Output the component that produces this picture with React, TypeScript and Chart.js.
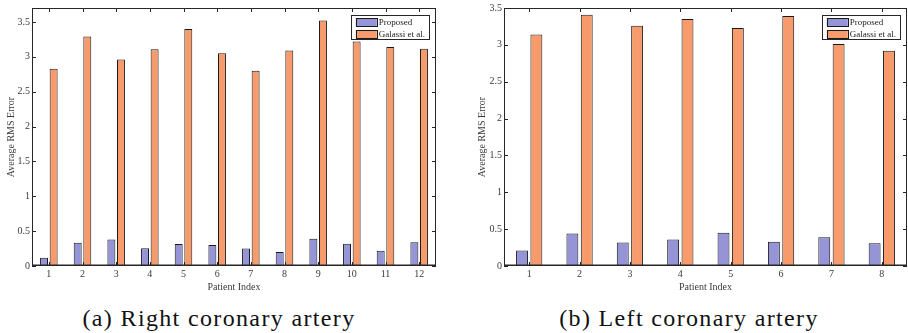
import React, { useEffect, useRef } from 'react';
import { Chart, registerables } from 'chart.js';

Chart.register(...registerables);

// ---- Data ----
const seriesLabels = ['Proposed', 'Galassi et al.'];
const seriesColors = ['#9494d6', '#f79a6c'];

const rightCategories = ['1', '2', '3', '4', '5', '6', '7', '8', '9', '10', '11', '12'];
const rightProposed = [0.12, 0.335, 0.38, 0.255, 0.315, 0.3, 0.25, 0.2, 0.39, 0.32, 0.22, 0.34];
const rightGalassi = [2.83, 3.29, 2.96, 3.11, 3.4, 3.05, 2.8, 3.09, 3.52, 3.22, 3.14, 3.115];

const leftCategories = ['1', '2', '3', '4', '5', '6', '7', '8'];
const leftProposed = [0.21, 0.44, 0.32, 0.36, 0.45, 0.33, 0.39, 0.31];
const leftGalassi = [3.14, 3.41, 3.26, 3.35, 3.23, 3.39, 3.01, 2.92];

const xTitle = 'Patient Index';
const yTitle = 'Average RMS Error';
const captionA = '(a) Right coronary artery';
const captionB = '(b) Left coronary artery';

const FONT = "'Liberation Serif', serif";
const TEXT = '#3a3a3a';

const framePlugin = {
  id: 'matlabFrame',
  afterDatasetsDraw(chart: any) {
    const { ctx, chartArea } = chart;
    const { left, right, top, bottom } = chartArea;
    const xs = chart.scales.x;
    const ys = chart.scales.y;
    ctx.save();
    ctx.strokeStyle = '#262626';
    ctx.lineWidth = 1;
    ctx.strokeRect(left + 0.5, top + 0.5, right - left - 1, bottom - top - 1);
    const tl = 4;
    ctx.beginPath();
    xs.ticks.forEach((_t: any, i: number) => {
      const px = Math.round(xs.getPixelForTick(i)) + 0.5;
      ctx.moveTo(px, bottom);
      ctx.lineTo(px, bottom - tl);
      ctx.moveTo(px, top);
      ctx.lineTo(px, top + tl);
    });
    ys.ticks.forEach((t: any) => {
      const py = Math.round(ys.getPixelForValue(t.value)) + 0.5;
      ctx.moveTo(left, py);
      ctx.lineTo(left + tl, py);
      ctx.moveTo(right, py);
      ctx.lineTo(right - tl, py);
    });
    ctx.stroke();
    ctx.lineWidth = 1.5;
    ctx.beginPath();
    ctx.moveTo(left, bottom - 0.75);
    ctx.lineTo(right, bottom - 0.75);
    ctx.stroke();

    // legend box (inside top-right)
    const fontPx = 9;
    ctx.font = `${fontPx}px ${FONT}`;
    const labels = chart.data.datasets.map((d: any) => d.label);
    const textW = Math.max(...labels.map((l: string) => ctx.measureText(l).width));
    const swW = 21;
    const boxW = 5 + swW + 2 + textW + 4;
    const boxH = 24;
    const bx = right - 7 - boxW;
    const by = top + 7;
    ctx.fillStyle = '#ffffff';
    ctx.fillRect(bx, by, boxW, boxH);
    ctx.strokeStyle = '#262626';
    ctx.lineWidth = 1;
    ctx.strokeRect(Math.round(bx) + 0.5, Math.round(by) + 0.5, Math.round(boxW), boxH);
    chart.data.datasets.forEach((d: any, i: number) => {
      const sy = by + 3 + i * 12;
      ctx.fillStyle = d.backgroundColor;
      ctx.fillRect(bx + 5, sy, swW, 8);
      ctx.strokeStyle = '#1a1a1a';
      ctx.strokeRect(Math.round(bx + 5) + 0.5, Math.round(sy) + 0.5, swW, 8);
      ctx.fillStyle = '#222';
      ctx.textBaseline = 'middle';
      ctx.textAlign = 'left';
      ctx.fillText(d.label, bx + 5 + swW + 2, sy + 4.5);
    });
    ctx.restore();
  },
};

function makeConfig(
  categories: string[],
  proposed: number[],
  galassi: number[],
  yMax: number,
  yWidth: number,
  yTitlePad: number,
  padding: any
): any {
  return {
    type: 'bar',
    data: {
      labels: categories,
      datasets: [
        {
          label: seriesLabels[0],
          data: proposed,
          backgroundColor: seriesColors[0],
          borderColor: '#1a1a1a',
          borderWidth: 1,
          categoryPercentage: 0.57,
          barPercentage: 0.83,
        },
        {
          label: seriesLabels[1],
          data: galassi,
          backgroundColor: seriesColors[1],
          borderColor: '#1a1a1a',
          borderWidth: 1,
          categoryPercentage: 0.57,
          barPercentage: 0.83,
        },
      ],
    },
    options: {
      responsive: false,
      animation: false,
      devicePixelRatio: 1,
      layout: { padding },
      plugins: {
        legend: { display: false },
        tooltip: { enabled: false },
        title: { display: false },
      },
      scales: {
        x: {
          grid: { display: false, drawTicks: false },
          border: { display: false },
          ticks: { color: TEXT, font: { family: FONT, size: 10 }, padding: 2, maxRotation: 0 },
          title: {
            display: true,
            text: xTitle,
            color: TEXT,
            font: { family: FONT, size: 10 },
            padding: { top: 0, bottom: 7 },
          },
          afterFit: (s: any) => {
            s.height = 34;
          },
        },
        y: {
          min: 0,
          max: yMax,
          grid: { display: false, drawTicks: false },
          border: { display: false },
          ticks: {
            stepSize: 0.5,
            includeBounds: false,
            color: TEXT,
            font: { family: FONT, size: 10 },
            padding: 2,
            callback: (v: any) => String(v),
          },
          title: {
            display: true,
            text: yTitle,
            color: TEXT,
            font: { family: FONT, size: 10 },
            padding: { top: yTitlePad, bottom: 0 },
          },
          afterFit: (s: any) => {
            s.width = yWidth;
          },
        },
      },
    },
    plugins: [framePlugin],
  };
}

function BarPanel(props: {
  categories: string[];
  proposed: number[];
  galassi: number[];
  yMax: number;
  yWidth: number;
  yTitlePad: number;
  padding: any;
  width: number;
  height: number;
  left: number;
}) {
  const ref = useRef<HTMLCanvasElement | null>(null);
  useEffect(() => {
    if (!ref.current) return;
    const chart = new Chart(
      ref.current,
      makeConfig(
        props.categories,
        props.proposed,
        props.galassi,
        props.yMax,
        props.yWidth,
        props.yTitlePad,
        props.padding
      )
    );
    return () => chart.destroy();
  }, []);
  return (
    <canvas
      ref={ref}
      width={props.width}
      height={props.height}
      style={{
        position: 'absolute',
        left: props.left,
        top: 0,
        width: props.width,
        height: props.height,
      }}
    />
  );
}

const captionStyle: React.CSSProperties = {
  position: 'absolute',
  top: 306,
  fontFamily: FONT,
  fontSize: 24,
  lineHeight: '24px',
  letterSpacing: '1.35px',
  color: '#111',
  textAlign: 'center',
  whiteSpace: 'nowrap',
};

export default function App() {
  return (
    <div
      style={{
        position: 'absolute',
        left: 0,
        top: 0,
        width: 908,
        height: 333,
        background: '#ffffff',
        overflow: 'hidden',
      }}
    >
      <BarPanel
        categories={rightCategories}
        proposed={rightProposed}
        galassi={rightGalassi}
        yMax={3.7}
        yWidth={32}
        yTitlePad={5}
        padding={{ top: 5, right: 14, left: 0, bottom: 0 }}
        width={450}
        height={300}
        left={0}
      />
      <BarPanel
        categories={leftCategories}
        proposed={leftProposed}
        galassi={leftGalassi}
        yMax={3.5}
        yWidth={44}
        yTitlePad={16}
        padding={{ top: 6, right: 1, left: 0, bottom: 0 }}
        width={448}
        height={300}
        left={460}
      />
      <div style={{ ...captionStyle, left: 0, width: 438 }}>{captionA}</div>
      <div style={{ ...captionStyle, left: 460, width: 458 }}>{captionB}</div>
    </div>
  );
}
